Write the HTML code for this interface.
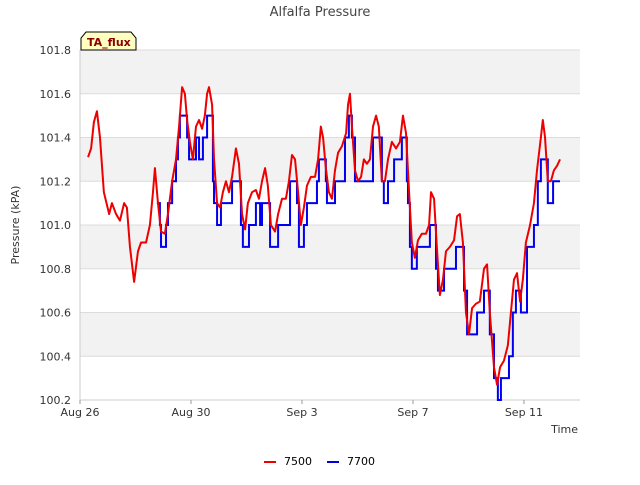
<!DOCTYPE html>
<html><head><meta charset="utf-8"><style>
body{margin:0;background:#fff;font-family:"Liberation Sans","DejaVu Sans",sans-serif;}
svg text{font-family:"DejaVu Sans","Liberation Sans",sans-serif;}
</style></head><body>
<svg id="chart" width="640" height="480" xmlns="http://www.w3.org/2000/svg">
<text x="320" y="16" text-anchor="middle" font-size="13" fill="#444">Alfalfa Pressure</text>
<g id="plot"></g>
<text transform="translate(19,225) rotate(-90)" text-anchor="middle" font-size="11" fill="#333">Pressure (kPA)</text>
<text x="578" y="433" text-anchor="end" font-size="11" fill="#333">Time</text>
<g>
<path d="M81,50 L81,38 L86,32 L131,32 L136,38 L136,50 Z" fill="#ffffc0" stroke="#000" stroke-width="1"/>
<text x="87" y="46" font-size="11" font-weight="bold" fill="#8b0000">TA_flux</text>
</g>
<g>
<g><line x1="264" y1="462" x2="276" y2="462" stroke="#e00" stroke-width="2"/><text x="284" y="465" font-size="11" fill="#000">7500</text></g>
<g><line x1="327" y1="462" x2="339" y2="462" stroke="#00d" stroke-width="2"/><text x="347" y="465" font-size="11" fill="#000">7700</text></g>
</g>
</svg>
<script>
const yTicks=[100.2,100.4,100.6,100.8,101.0,101.2,101.4,101.6,101.8];
const xTickDays=[0,4,8,12,16];
const xTickLabels=["Aug 26","Aug 30","Sep 3","Sep 7","Sep 11"];
const redDays=[0.29,0.40,0.50,0.61,0.72,0.86,1.05,1.15,1.30,1.44,1.59,1.69,1.80,1.95,2.09,2.20,2.38,2.52,2.63,2.70,2.81,2.92,3.06,3.17,3.32,3.46,3.57,3.68,3.78,3.86,3.96,4.07,4.18,4.29,4.40,4.50,4.58,4.65,4.76,4.83,4.94,5.05,5.15,5.26,5.37,5.48,5.62,5.73,5.84,5.95,6.05,6.20,6.34,6.45,6.56,6.67,6.77,6.88,7.03,7.14,7.28,7.42,7.53,7.64,7.75,7.86,7.96,8.07,8.18,8.32,8.47,8.58,8.68,8.76,8.86,8.97,9.08,9.19,9.30,9.44,9.59,9.66,9.73,9.80,9.91,10.02,10.13,10.23,10.34,10.45,10.56,10.67,10.77,10.88,10.99,11.10,11.24,11.39,11.53,11.64,11.75,11.86,11.96,12.07,12.18,12.32,12.47,12.58,12.65,12.76,12.86,12.97,13.08,13.19,13.33,13.48,13.59,13.69,13.80,13.91,14.02,14.13,14.27,14.41,14.56,14.67,14.77,14.92,15.03,15.14,15.28,15.42,15.53,15.64,15.75,15.86,15.96,16.07,16.22,16.36,16.47,16.61,16.68,16.76,16.86,16.97,17.08,17.19,17.30];
const redVals=[101.31,101.35,101.47,101.52,101.4,101.15,101.05,101.1,101.05,101.02,101.1,101.08,100.9,100.74,100.88,100.92,100.92,101.0,101.15,101.26,101.1,100.97,100.96,101.05,101.2,101.3,101.45,101.63,101.6,101.48,101.38,101.3,101.45,101.48,101.44,101.5,101.6,101.63,101.55,101.3,101.1,101.08,101.15,101.2,101.15,101.22,101.35,101.28,101.05,100.98,101.1,101.15,101.16,101.12,101.2,101.26,101.18,101.0,100.97,101.05,101.12,101.12,101.2,101.32,101.3,101.15,101.0,101.08,101.18,101.22,101.22,101.3,101.45,101.4,101.26,101.15,101.12,101.25,101.33,101.36,101.42,101.55,101.6,101.45,101.25,101.2,101.22,101.3,101.28,101.3,101.45,101.5,101.45,101.2,101.2,101.3,101.38,101.35,101.38,101.5,101.42,101.15,100.92,100.85,100.93,100.96,100.96,101.0,101.15,101.12,100.9,100.68,100.75,100.88,100.9,100.93,101.04,101.05,100.92,100.6,100.5,100.62,100.64,100.65,100.8,100.82,100.6,100.35,100.27,100.35,100.38,100.45,100.6,100.75,100.78,100.65,100.75,100.92,101.0,101.1,101.25,101.4,101.48,101.4,101.2,101.2,101.25,101.27,101.3];
const blueDays=[2.77,2.88,2.92,3.1,3.17,3.32,3.46,3.53,3.6,3.86,3.93,4.18,4.29,4.43,4.58,4.79,4.83,4.94,5.08,5.48,5.8,5.87,6.09,6.34,6.49,6.56,6.85,7.14,7.57,7.82,7.89,8.07,8.18,8.54,8.61,8.86,8.9,9.19,9.55,9.69,9.8,9.91,10.56,10.88,10.95,11.1,11.32,11.6,11.78,11.82,11.89,11.96,12.14,12.61,12.83,12.9,13.12,13.55,13.84,13.95,14.31,14.56,14.77,14.92,15.06,15.17,15.46,15.6,15.71,15.89,16.11,16.36,16.5,16.61,16.86,17.05,17.30];
const blueVals=[101.1,101.0,100.9,101.0,101.1,101.2,101.3,101.4,101.5,101.4,101.3,101.4,101.3,101.4,101.5,101.2,101.1,101.0,101.1,101.2,101.0,100.9,101.0,101.1,101.0,101.1,100.9,101.0,101.2,101.1,100.9,101.0,101.1,101.2,101.3,101.2,101.1,101.2,101.4,101.5,101.4,101.2,101.4,101.2,101.1,101.2,101.3,101.4,101.2,101.1,100.9,100.8,100.9,101.0,100.8,100.7,100.8,100.9,100.7,100.5,100.6,100.7,100.5,100.3,100.2,100.3,100.4,100.6,100.7,100.6,100.9,101.0,101.2,101.3,101.1,101.2,101.2];
const X0=80,X1=580,Y0=400,Y1=50,DMAX=18.02,VMIN=100.2,VMAX=101.8;
const xs=d=>X0+(d/DMAX)*(X1-X0);
const ys=v=>Y0-(v-VMIN)/(VMAX-VMIN)*(Y0-Y1);
const NS="http://www.w3.org/2000/svg";
const g=document.getElementById('plot');
function mk(t,a){const e=document.createElementNS(NS,t);for(const k in a)e.setAttribute(k,a[k]);g.appendChild(e);return e;}
for(let i=0;i<yTicks.length-1;i++){
 const r=mk('rect',{x:X0,y:ys(yTicks[i+1]),width:X1-X0,height:ys(yTicks[i])-ys(yTicks[i+1]),fill:(i%2==0)?'#ffffff':'#f2f2f2'});
 
 
}
yTicks.forEach(v=>{
 const l=mk('line',{x1:X0,x2:X1,y1:ys(v),y2:ys(v),stroke:'#dcdcdc','stroke-width':1});
 
 
 const t=mk('text',{x:X0-9,y:ys(v)+4,'text-anchor':'end','font-size':11,fill:'#333'});
 t.textContent=v.toFixed(1);
 
 
});
const ax=mk('line',{x1:X0,x2:X0,y1:Y1,y2:Y0,stroke:'#ccc'});


const bx=mk('line',{x1:X0,x2:X1,y1:Y0,y2:Y0,stroke:'#ccc'});


xTickDays.forEach((d,i)=>{
 const tk=mk('line',{x1:xs(d),x2:xs(d),y1:Y0,y2:Y0+4,stroke:'#999'});
 
 
 const t=mk('text',{x:xs(d),y:Y0+16,'text-anchor':'middle','font-size':11,fill:'#333'});
 t.textContent=xTickLabels[i];
 
 
});
let bp='';
blueDays.forEach((d,i)=>{
 const y=ys(blueVals[i]);
 if(i==0)bp+='M'+xs(d)+','+y;else bp+='L'+xs(d)+','+ys(blueVals[i-1])+'L'+xs(d)+','+y;
});
const bl=mk('path',{d:bp,fill:'none',stroke:'#0000ee','stroke-width':2});


const rp=redDays.map((d,i)=>(i?'L':'M')+xs(d)+','+ys(redVals[i])).join('');
const rl=mk('path',{d:rp,fill:'none',stroke:'#ee0000','stroke-width':2,'stroke-linejoin':'round'});


</script>
</body></html>
